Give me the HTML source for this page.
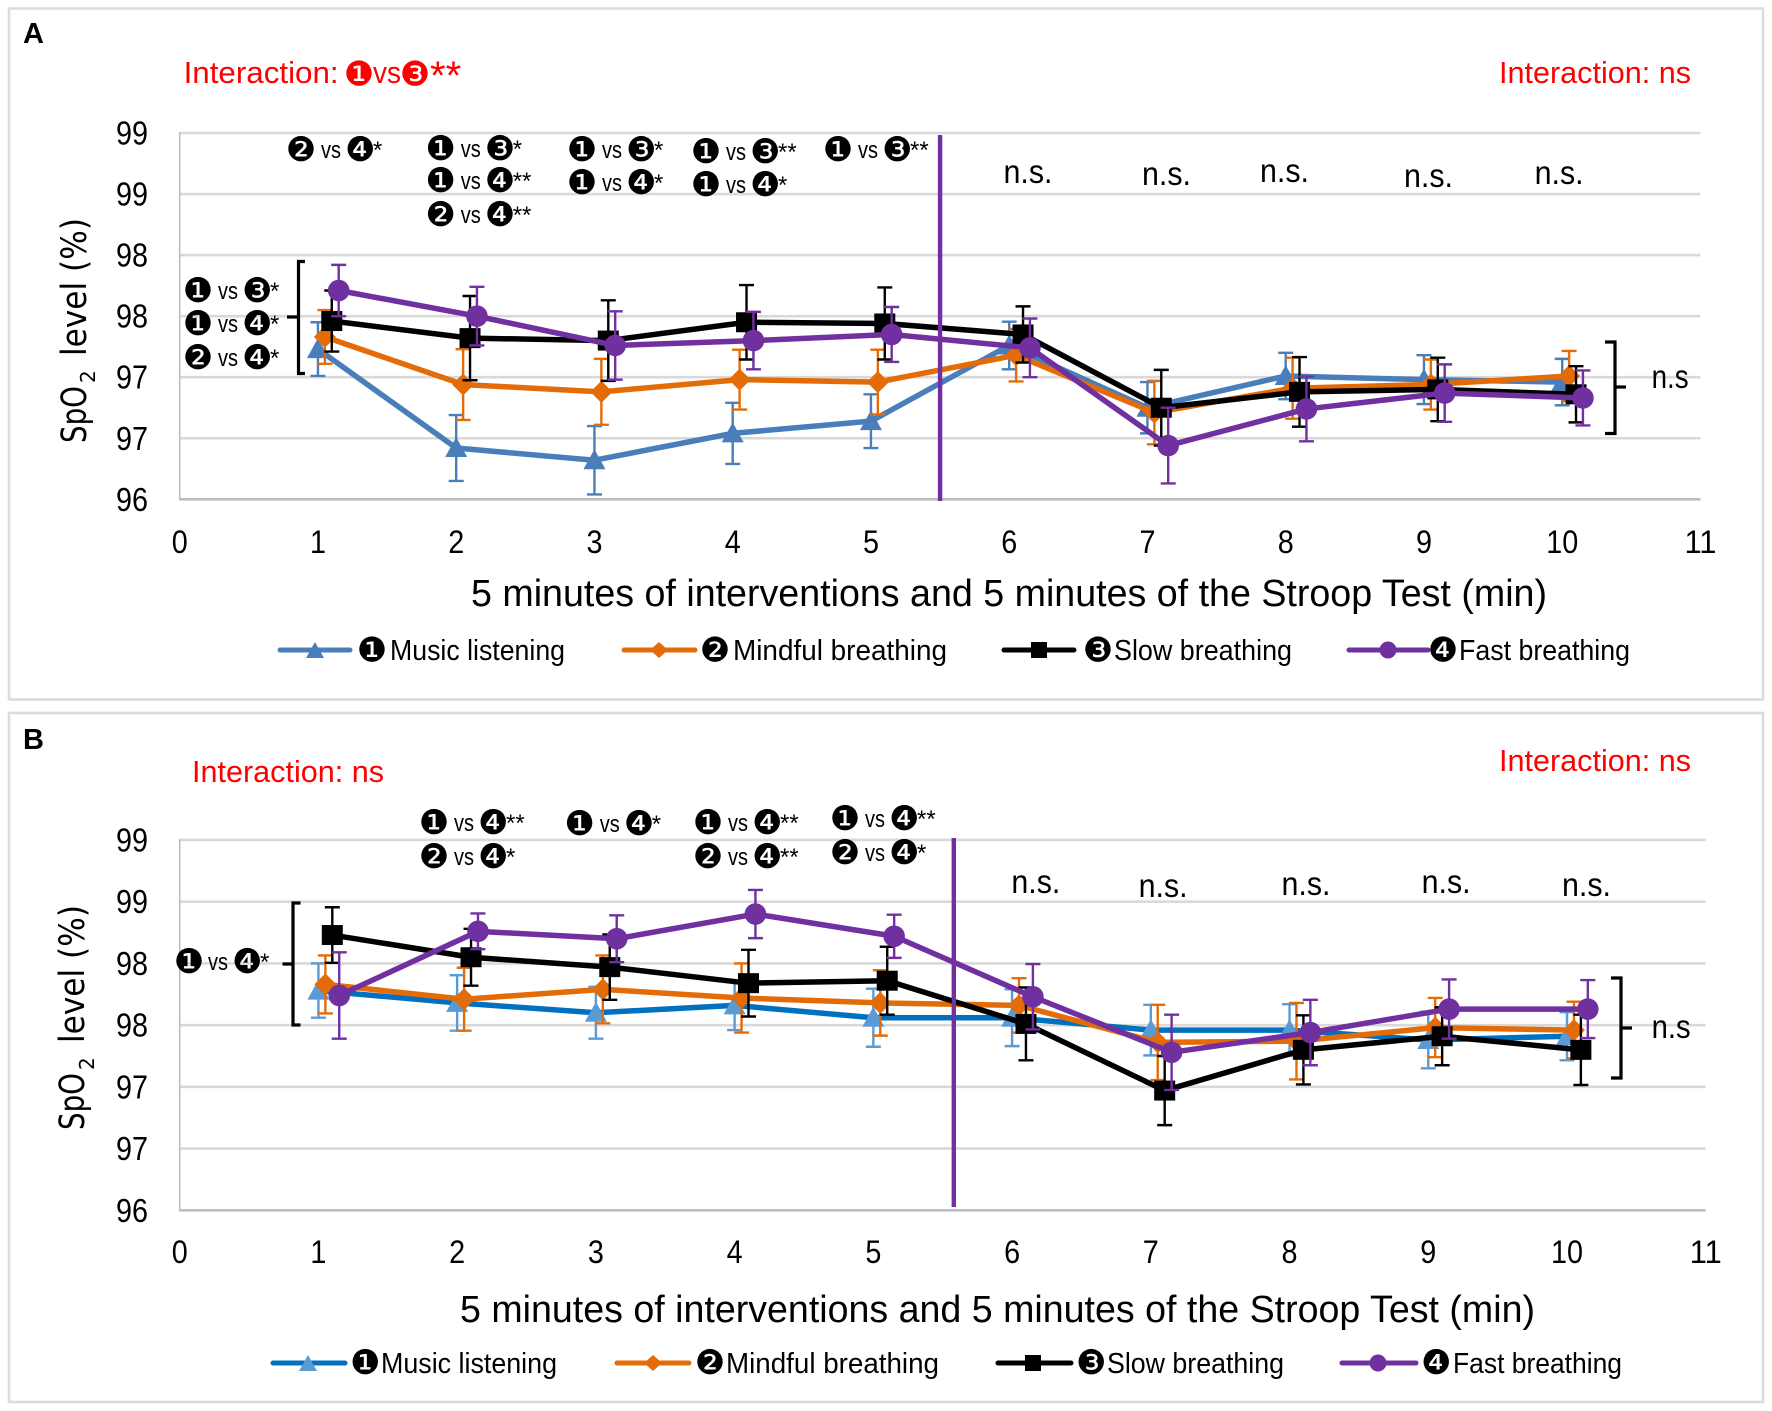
<!DOCTYPE html>
<html lang="en">
<head>
<meta charset="utf-8">
<title>SpO2 level during interventions and Stroop Test</title>
<style>
html,body{margin:0;padding:0;background:#fff;}
svg{display:block;}
text{font-family:"Liberation Sans",sans-serif;fill:#000;}
.dj{font-family:"DejaVu Sans",sans-serif;}
.ann{font-size:24px;}
.ann .c{font-family:"DejaVu Sans",sans-serif;font-size:34px;baseline-shift:-2.5px;}
.red,.red tspan{fill:#f00;}
.itx{font-size:31px;}
.leg{font-size:29px;}
.nsl{font-size:33px;}
.ttl{font-size:38px;}
.c34{font-family:"DejaVu Sans",sans-serif;font-size:34px;}
.br{fill:none;stroke:#000;stroke-width:3.2;}
</style>
</head>
<body>
<svg id="figure" xmlns="http://www.w3.org/2000/svg" width="1772" height="1411" viewBox="0 0 1772 1411">
<rect x="9" y="8.5" width="1754" height="691" fill="#fff" stroke="#dcdcdc" stroke-width="2.6"/>
<rect x="9" y="713" width="1754" height="689" fill="#fff" stroke="#dcdcdc" stroke-width="2.6"/>

<g id="chartA"></g>
<g id="chartB"></g>

<!-- Panel A text -->
<text x="23" y="43" font-size="29" font-weight="700">A</text>
<text class="red itx" x="183.6" y="83" textLength="155" lengthAdjust="spacingAndGlyphs">Interaction:</text>
<text class="red" y="83"><tspan class="c34" x="343.7" y="85.6">❶</tspan><tspan font-size="31" x="373" y="83" textLength="28" lengthAdjust="spacingAndGlyphs">vs</tspan><tspan class="c34" x="399.7" y="85.6">❸</tspan><tspan font-size="40" x="430" y="89">**</tspan></text>
<text class="red itx" x="1499" y="83" textLength="192" lengthAdjust="spacingAndGlyphs">Interaction: ns</text>
<text class="dj" font-size="35" transform="translate(86,443) rotate(-90)" textLength="57" lengthAdjust="spacingAndGlyphs">SpO</text>
<text class="dj" font-size="20" transform="translate(95,383) rotate(-90)">2</text>
<text class="dj" font-size="35" transform="translate(86,356) rotate(-90)" textLength="138" lengthAdjust="spacingAndGlyphs">level (%)</text>
<text class="ttl" x="471" y="606" textLength="1076" lengthAdjust="spacingAndGlyphs">5 minutes of interventions and 5 minutes of the Stroop Test (min)</text>

<g>
<text class="ann" y="158"><tspan class="c" x="285.7">❷</tspan><tspan x="321" textLength="20" lengthAdjust="spacingAndGlyphs">vs</tspan><tspan class="c" x="345">❹</tspan><tspan x="373">*</tspan></text>
<text class="ann" y="157"><tspan class="c" x="425.4">❶</tspan><tspan x="460.7" textLength="20" lengthAdjust="spacingAndGlyphs">vs</tspan><tspan class="c" x="484.7">❸</tspan><tspan x="512.7">*</tspan></text>
<text class="ann" y="189"><tspan class="c" x="425.4">❶</tspan><tspan x="460.7" textLength="20" lengthAdjust="spacingAndGlyphs">vs</tspan><tspan class="c" x="484.7">❹</tspan><tspan x="512.7">**</tspan></text>
<text class="ann" y="223"><tspan class="c" x="425.4">❷</tspan><tspan x="460.7" textLength="20" lengthAdjust="spacingAndGlyphs">vs</tspan><tspan class="c" x="484.7">❹</tspan><tspan x="512.7">**</tspan></text>
<text class="ann" y="158"><tspan class="c" x="566.7">❶</tspan><tspan x="602" textLength="20" lengthAdjust="spacingAndGlyphs">vs</tspan><tspan class="c" x="626">❸</tspan><tspan x="654">*</tspan></text>
<text class="ann" y="191"><tspan class="c" x="566.7">❶</tspan><tspan x="602" textLength="20" lengthAdjust="spacingAndGlyphs">vs</tspan><tspan class="c" x="626">❹</tspan><tspan x="654">*</tspan></text>
<text class="ann" y="160"><tspan class="c" x="690.7">❶</tspan><tspan x="726" textLength="20" lengthAdjust="spacingAndGlyphs">vs</tspan><tspan class="c" x="750">❸</tspan><tspan x="778">**</tspan></text>
<text class="ann" y="193"><tspan class="c" x="690.7">❶</tspan><tspan x="726" textLength="20" lengthAdjust="spacingAndGlyphs">vs</tspan><tspan class="c" x="750">❹</tspan><tspan x="778">*</tspan></text>
<text class="ann" y="158"><tspan class="c" x="822.7">❶</tspan><tspan x="858" textLength="20" lengthAdjust="spacingAndGlyphs">vs</tspan><tspan class="c" x="882">❸</tspan><tspan x="910">**</tspan></text>
<text class="ann" y="299"><tspan class="c" x="182.7">❶</tspan><tspan x="218" textLength="20" lengthAdjust="spacingAndGlyphs">vs</tspan><tspan class="c" x="242">❸</tspan><tspan x="270">*</tspan></text>
<text class="ann" y="332"><tspan class="c" x="182.7">❶</tspan><tspan x="218" textLength="20" lengthAdjust="spacingAndGlyphs">vs</tspan><tspan class="c" x="242">❹</tspan><tspan x="270">*</tspan></text>
<text class="ann" y="366"><tspan class="c" x="182.7">❷</tspan><tspan x="218" textLength="20" lengthAdjust="spacingAndGlyphs">vs</tspan><tspan class="c" x="242">❹</tspan><tspan x="270">*</tspan></text>
<text class="nsl" x="1003.5" y="183" textLength="49" lengthAdjust="spacingAndGlyphs">n.s.</text>
<text class="nsl" x="1142" y="185" textLength="49" lengthAdjust="spacingAndGlyphs">n.s.</text>
<text class="nsl" x="1260" y="182" textLength="49" lengthAdjust="spacingAndGlyphs">n.s.</text>
<text class="nsl" x="1404" y="187" textLength="49" lengthAdjust="spacingAndGlyphs">n.s.</text>
<text class="nsl" x="1534.6" y="184" textLength="49" lengthAdjust="spacingAndGlyphs">n.s.</text>
<path class="br" d="M305,261.5H298.5V373.5H305M298.5,317H287"/>
<path class="br" d="M1605,342H1615V433.5H1605M1615,387H1626"/>
<text class="nsl" x="1651.6" y="388" textLength="37" lengthAdjust="spacingAndGlyphs">n.s</text>
</g>

<g>
<g>
<line x1="280" y1="650" x2="350" y2="650" stroke="#4a7ebb" stroke-width="5" stroke-linecap="round"/>
<polygon points="315,642 324,658 306,658" fill="#4a7ebb"/>
<text class="c34" x="356.7" y="661.6">❶</text><text class="leg" x="390" y="660" textLength="175" lengthAdjust="spacingAndGlyphs">Music listening</text></g>
<g>
<line x1="624" y1="650" x2="695" y2="650" stroke="#e36c09" stroke-width="5" stroke-linecap="round"/>
<polygon points="659,642 668,650 659,658 650,650" fill="#e36c09"/>
<text class="c34" x="699.7" y="661.6">❷</text><text class="leg" x="733" y="660" textLength="214" lengthAdjust="spacingAndGlyphs">Mindful breathing</text></g>
<g>
<line x1="1004" y1="650" x2="1074" y2="650" stroke="#000" stroke-width="5" stroke-linecap="round"/>
<rect x="1031" y="642" width="16" height="16" fill="#000"/>
<text class="c34" x="1082.7" y="661.6">❸</text><text class="leg" x="1114" y="660" textLength="178" lengthAdjust="spacingAndGlyphs">Slow breathing</text></g>
<g>
<line x1="1349" y1="650" x2="1428" y2="650" stroke="#7030a0" stroke-width="5" stroke-linecap="round"/>
<circle cx="1388" cy="650" r="8.5" fill="#7030a0"/>
<text class="c34" x="1427.7" y="661.6">❹</text><text class="leg" x="1459" y="660" textLength="171" lengthAdjust="spacingAndGlyphs">Fast breathing</text></g>
</g>

<!-- Panel B text -->
<text x="23" y="749" font-size="29" font-weight="700">B</text>
<text class="red itx" x="192" y="782" textLength="192" lengthAdjust="spacingAndGlyphs">Interaction: ns</text>
<text class="red itx" x="1499" y="771" textLength="192" lengthAdjust="spacingAndGlyphs">Interaction: ns</text>
<text class="dj" font-size="35" transform="translate(84,1130) rotate(-90)" textLength="57" lengthAdjust="spacingAndGlyphs">SpO</text>
<text class="dj" font-size="20" transform="translate(94,1070) rotate(-90)">2</text>
<text class="dj" font-size="35" transform="translate(84,1043) rotate(-90)" textLength="138" lengthAdjust="spacingAndGlyphs">level (%)</text>
<text class="ttl" x="460" y="1322" textLength="1075" lengthAdjust="spacingAndGlyphs">5 minutes of interventions and 5 minutes of the Stroop Test (min)</text>

<g>
<text class="ann" y="831"><tspan class="c" x="418.7">❶</tspan><tspan x="454" textLength="20" lengthAdjust="spacingAndGlyphs">vs</tspan><tspan class="c" x="478">❹</tspan><tspan x="506">**</tspan></text>
<text class="ann" y="865"><tspan class="c" x="418.7">❷</tspan><tspan x="454" textLength="20" lengthAdjust="spacingAndGlyphs">vs</tspan><tspan class="c" x="478">❹</tspan><tspan x="506">*</tspan></text>
<text class="ann" y="832"><tspan class="c" x="564.4">❶</tspan><tspan x="599.7" textLength="20" lengthAdjust="spacingAndGlyphs">vs</tspan><tspan class="c" x="623.7">❹</tspan><tspan x="651.7">*</tspan></text>
<text class="ann" y="831"><tspan class="c" x="692.7">❶</tspan><tspan x="728" textLength="20" lengthAdjust="spacingAndGlyphs">vs</tspan><tspan class="c" x="752">❹</tspan><tspan x="780">**</tspan></text>
<text class="ann" y="865"><tspan class="c" x="692.7">❷</tspan><tspan x="728" textLength="20" lengthAdjust="spacingAndGlyphs">vs</tspan><tspan class="c" x="752">❹</tspan><tspan x="780">**</tspan></text>
<text class="ann" y="827"><tspan class="c" x="829.7">❶</tspan><tspan x="865" textLength="20" lengthAdjust="spacingAndGlyphs">vs</tspan><tspan class="c" x="889">❹</tspan><tspan x="917">**</tspan></text>
<text class="ann" y="861"><tspan class="c" x="829.7">❷</tspan><tspan x="865" textLength="20" lengthAdjust="spacingAndGlyphs">vs</tspan><tspan class="c" x="889">❹</tspan><tspan x="917">*</tspan></text>
<text class="ann" y="970"><tspan class="c" x="173.7">❶</tspan><tspan x="208" textLength="20" lengthAdjust="spacingAndGlyphs">vs</tspan><tspan class="c" x="232">❹</tspan><tspan x="260">*</tspan></text>
<text class="nsl" x="1011.4" y="893" textLength="49" lengthAdjust="spacingAndGlyphs">n.s.</text>
<text class="nsl" x="1138.6" y="897" textLength="49" lengthAdjust="spacingAndGlyphs">n.s.</text>
<text class="nsl" x="1281.5" y="895" textLength="49" lengthAdjust="spacingAndGlyphs">n.s.</text>
<text class="nsl" x="1421.6" y="893" textLength="49" lengthAdjust="spacingAndGlyphs">n.s.</text>
<text class="nsl" x="1562" y="896" textLength="49" lengthAdjust="spacingAndGlyphs">n.s.</text>
<path class="br" d="M300.5,903H293V1025H300.5M293,964H282.5"/>
<path class="br" d="M1611,978H1621V1078H1611M1621,1028H1632"/>
<text class="nsl" x="1651.6" y="1038" textLength="39" lengthAdjust="spacingAndGlyphs">n.s</text>
</g>

<g>
<g>
<line x1="273" y1="1363" x2="345" y2="1363" stroke="#0070c0" stroke-width="5" stroke-linecap="round"/>
<polygon points="308,1355 317,1371 299,1371" fill="#5b9bd5"/>
<text class="c34" x="350" y="1374">❶</text><text class="leg" x="381" y="1373" textLength="176" lengthAdjust="spacingAndGlyphs">Music listening</text></g>
<g>
<line x1="617" y1="1363" x2="689" y2="1363" stroke="#e36c09" stroke-width="5" stroke-linecap="round"/>
<polygon points="653,1355 662,1363 653,1371 644,1363" fill="#e36c09"/>
<text class="c34" x="694.7" y="1374">❷</text><text class="leg" x="726" y="1373" textLength="213" lengthAdjust="spacingAndGlyphs">Mindful breathing</text></g>
<g>
<line x1="998" y1="1363" x2="1071" y2="1363" stroke="#000" stroke-width="5" stroke-linecap="round"/>
<rect x="1025" y="1355" width="16" height="16" fill="#000"/>
<text class="c34" x="1076" y="1374">❸</text><text class="leg" x="1107" y="1373" textLength="177" lengthAdjust="spacingAndGlyphs">Slow breathing</text></g>
<g>
<line x1="1342" y1="1363" x2="1416" y2="1363" stroke="#7030a0" stroke-width="5" stroke-linecap="round"/>
<circle cx="1378" cy="1363" r="8.5" fill="#7030a0"/>
<text class="c34" x="1421" y="1374">❹</text><text class="leg" x="1453" y="1373" textLength="169" lengthAdjust="spacingAndGlyphs">Fast breathing</text></g>
</g>
</svg>

<script>
const minutes = [1, 2, 3, 4, 5, 6, 7, 8, 9, 10];
const yTicks = [96, 96.5, 97, 97.5, 98, 98.5, 99];
const yTickLabels = ['96', '97', '97', '98', '98', '99', '99'];
const xTicks = [0, 1, 2, 3, 4, 5, 6, 7, 8, 9, 10, 11];
const xTickLabels = ['0', '1', '2', '3', '4', '5', '6', '7', '8', '9', '10', '11'];

const musicA = [97.23, 96.42, 96.32, 96.54, 96.64, 97.26, 96.75, 97.01, 96.98, 96.96];
const musicErrA = [0.22, 0.27, 0.28, 0.25, 0.22, 0.195, 0.21, 0.19, 0.2, 0.19];
const mindfulA = [97.33, 96.94, 96.88, 96.98, 96.96, 97.18, 96.71, 96.91, 96.94, 97.01];
const mindfulErrA = [0.22, 0.29, 0.27, 0.245, 0.265, 0.215, 0.26, 0.25, 0.205, 0.205];
const slowA = [97.46, 97.32, 97.3, 97.45, 97.44, 97.35, 96.75, 96.88, 96.9, 96.86];
const slowErrA = [0.25, 0.345, 0.33, 0.305, 0.295, 0.23, 0.31, 0.285, 0.26, 0.23];
const fastA = [97.71, 97.5, 97.26, 97.3, 97.35, 97.24, 96.44, 96.74, 96.87, 96.83];
const fastErrA = [0.21, 0.24, 0.28, 0.235, 0.225, 0.24, 0.31, 0.265, 0.235, 0.225];

const musicB = [97.78, 97.68, 97.6, 97.66, 97.56, 97.56, 97.46, 97.46, 97.38, 97.41];
const musicErrB = [0.22, 0.225, 0.21, 0.2, 0.235, 0.23, 0.205, 0.21, 0.23, 0.195];
const mindfulB = [97.83, 97.71, 97.79, 97.72, 97.68, 97.66, 97.36, 97.37, 97.48, 97.46];
const mindfulErrB = [0.235, 0.255, 0.275, 0.28, 0.265, 0.22, 0.305, 0.31, 0.24, 0.23];
const slowB = [98.23, 98.05, 97.97, 97.84, 97.86, 97.51, 96.97, 97.3, 97.41, 97.3];
const slowErrB = [0.225, 0.23, 0.265, 0.27, 0.275, 0.295, 0.28, 0.28, 0.235, 0.285];
const fastB = [97.74, 98.26, 98.2, 98.4, 98.22, 97.73, 97.28, 97.44, 97.63, 97.63];
const fastErrB = [0.35, 0.145, 0.19, 0.195, 0.175, 0.265, 0.305, 0.265, 0.24, 0.235];

const dividerA = 5.5;
const dividerB = 5.58;

const NS = 'http://www.w3.org/2000/svg';

function xAxisA(v) { return 179.7 + v * 138.25; }
function yAxisA(v) { return 499.3 - (v - 96) * 122.1; }
function xAxisB(v) { return 179.7 + v * 138.73; }
function yAxisB(v) { return 1210.3 - (v - 96) * 123.44; }

function shape(parent, tag, attrs, name) {
  const el = document.createElementNS(NS, tag);
  for (const k in attrs) el.setAttribute(k, attrs[k]);
  
  
  parent.appendChild(el);
  return el;
}

function drawMarker(parent, kind, cx, cy, color, name) {
  if (kind === 'triangle') {
    shape(parent, 'polygon', { points: cx + ',' + (cy - 11) + ' ' + (cx + 11) + ',' + (cy + 9) + ' ' + (cx - 11) + ',' + (cy + 9), fill: color }, name);
  } else if (kind === 'diamond') {
    shape(parent, 'polygon', { points: cx + ',' + (cy - 11) + ' ' + (cx + 11) + ',' + cy + ' ' + cx + ',' + (cy + 11) + ' ' + (cx - 11) + ',' + cy, fill: color }, name);
  } else if (kind === 'square') {
    shape(parent, 'rect', { x: cx - 10.5, y: cy - 10, width: 21, height: 20, fill: color }, name);
  } else {
    shape(parent, 'ellipse', { cx: cx, cy: cy, rx: 10.8, ry: 10.8, fill: color }, name);
  }
}

function drawSeries(parent, seriesName, values, errors, offset, kind, lineColor, markerColor, errColor, xAxis, yAxis) {
  const g = shape(parent, 'g', {}, 'series-' + seriesName);
  minutes.forEach(function (m, i) {
    const x = xAxis(m + offset);
    const top = yAxis(values[i] + errors[i]);
    const bot = yAxis(values[i] - errors[i]);
    shape(g, 'path', {
      d: 'M' + x + ',' + top + 'V' + bot + 'M' + (x - 7.5) + ',' + top + 'H' + (x + 7.5) + 'M' + (x - 7.5) + ',' + bot + 'H' + (x + 7.5),
      fill: 'none', stroke: errColor, 'stroke-width': 2.4
    }, 'error-bar-' + seriesName + '-' + m);
  });
  const pts = minutes.map(function (m, i) { return xAxis(m + offset) + ',' + yAxis(values[i]); }).join(' ');
  shape(g, 'polyline', { points: pts, fill: 'none', stroke: lineColor, 'stroke-width': 5.5, 'stroke-linejoin': 'round' }, 'line-' + seriesName);
  minutes.forEach(function (m, i) {
    drawMarker(g, kind, xAxis(m + offset), yAxis(values[i]), markerColor, 'point-' + seriesName + '-' + m);
  });
}

function drawChart(id, panel, xAxis, yAxis, xMax, tickBaseline, divider, divTop, divBot, seriesList) {
  const root = document.getElementById(id);
  const x0 = xAxis(0);
  const x1 = xAxis(xMax);
  yTicks.forEach(function (t, i) {
    const y = yAxis(t);
    shape(root, 'line', { x1: x0, y1: y, x2: x1, y2: y, stroke: i === 0 ? '#bdbdbd' : '#d9d9d9', 'stroke-width': 2.6 }, panel + '-gridline-' + i);
    const lab = shape(root, 'text', { x: 116, y: y + 11.5, 'font-size': 33, textLength: 32, lengthAdjust: 'spacingAndGlyphs' }, panel + '-y-tick-label-' + i);
    lab.textContent = yTickLabels[i];
  });
  shape(root, 'line', { x1: x0, y1: yAxis(99) - 1, x2: x0, y2: yAxis(96) + 1, stroke: '#bdbdbd', 'stroke-width': 1.6 }, panel + '-y-axis-line');
  xTicks.forEach(function (t, i) {
    const w = xTickLabels[i].length * 16;
    const lab = shape(root, 'text', { x: xAxis(t) - w / 2, y: tickBaseline, 'font-size': 32, textLength: w, lengthAdjust: 'spacingAndGlyphs' }, panel + '-x-tick-label-' + i);
    lab.textContent = xTickLabels[i];
  });
  seriesList.forEach(function (s) {
    drawSeries(root, panel + '-' + s[0], s[1], s[2], s[3], s[4], s[5], s[6], s[7], xAxis, yAxis);
  });
  shape(root, 'line', { x1: xAxis(divider), y1: divTop, x2: xAxis(divider), y2: divBot, stroke: '#7030a0', 'stroke-width': 4.4 }, panel + '-phase-divider');
}

drawChart('chartA', 'a', xAxisA, yAxisA, 11, 553, dividerA, 135, 501, [
  ['music', musicA, musicErrA, 0, 'triangle', '#4a7ebb', '#4a7ebb', '#4a7ebb'],
  ['mindful', mindfulA, mindfulErrA, 0.05, 'diamond', '#e36c09', '#e36c09', '#e36c09'],
  ['slow', slowA, slowErrA, 0.1, 'square', '#000000', '#000000', '#000000'],
  ['fast', fastA, fastErrA, 0.15, 'circle', '#7030a0', '#7030a0', '#7030a0']
]);
drawChart('chartB', 'b', xAxisB, yAxisB, 11, 1263, dividerB, 838, 1207, [
  ['music', musicB, musicErrB, 0, 'triangle', '#0070c0', '#5b9bd5', '#5b9bd5'],
  ['mindful', mindfulB, mindfulErrB, 0.05, 'diamond', '#e36c09', '#e36c09', '#e36c09'],
  ['slow', slowB, slowErrB, 0.1, 'square', '#000000', '#000000', '#000000'],
  ['fast', fastB, fastErrB, 0.15, 'circle', '#7030a0', '#7030a0', '#7030a0']
]);
</script>
</body>
</html>
